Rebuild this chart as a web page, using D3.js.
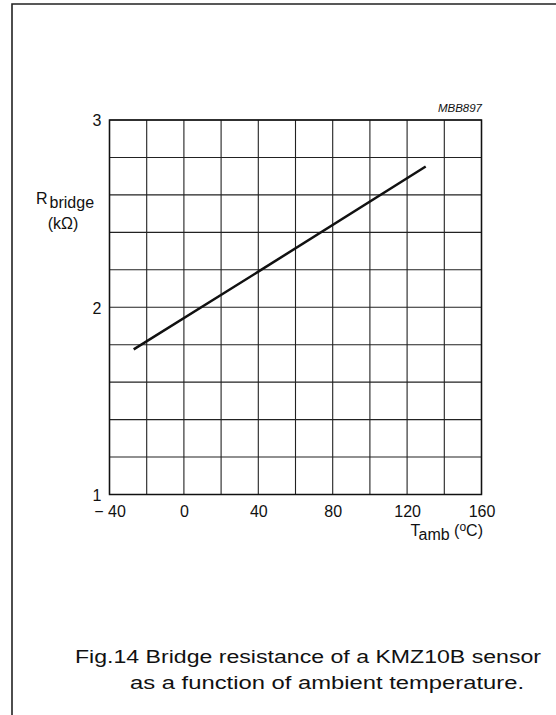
<!DOCTYPE html>
<html>
<head>
<meta charset="utf-8">
<script src="https://cdn.jsdelivr.net/npm/d3@7"></script>
<style>
  html, body { margin: 0; padding: 0; background: #fff; }
  svg { display: block; }
  text { font-family: "Liberation Sans", Arial, Helvetica, sans-serif; fill: #111; }
</style>
</head>
<body>
<script>
// ---- data ----
const temperature = [-27, 40, 130];          // T_amb (°C)
const resistance  = [1.775, 2.19, 2.752];    // R_bridge (kΩ)
const xTickValues = [-40, 0, 40, 80, 120, 160];
const xTickLabels = ["\u2212 40", "0", "40", "80", "120", "160"];
const yTickValues = [1, 2, 3];
const yTickLabels = ["1", "2", "3"];
const xGridValues = d3.range(-40, 161, 20);
const yGridValues = d3.range(1, 3.001, 0.2);

const W = 556, H = 715;
const svg = d3.select("body").append("svg").attr("width", W).attr("height", H);

// page frame (top and left edges visible)
svg.append("path")
  .attr("d", "M12,715 L12,4 L556,4")
  .attr("fill", "none").attr("stroke", "#222").attr("stroke-width", 1.6);

const plot = { left: 109.5, right: 481.5, top: 120, bottom: 494.5 };
const x = d3.scaleLinear().domain([-40, 160]).range([plot.left, plot.right]);
const y = d3.scaleLinear().domain([1, 3]).range([plot.bottom, plot.top]);

// grid
const g = svg.append("g");
g.selectAll("line.vx").data(xGridValues).join("line")
  .attr("x1", d => x(d)).attr("x2", d => x(d))
  .attr("y1", plot.top).attr("y2", plot.bottom)
  .attr("stroke", "#222").attr("stroke-width", 1.1);
g.selectAll("line.hy").data(yGridValues).join("line")
  .attr("y1", d => y(d)).attr("y2", d => y(d))
  .attr("x1", plot.left).attr("x2", plot.right)
  .attr("stroke", "#222").attr("stroke-width", 1.1);
g.append("rect")
  .attr("x", plot.left).attr("y", plot.top)
  .attr("width", plot.right - plot.left).attr("height", plot.bottom - plot.top)
  .attr("fill", "none").attr("stroke", "#111").attr("stroke-width", 1.5);

// axes via d3 (labels only)
const xAxis = d3.axisBottom(x).tickValues(xTickValues)
  .tickFormat((d, i) => xTickLabels[i]).tickSize(0).tickPadding(0);
const xa = svg.append("g").attr("transform", `translate(0,${plot.bottom})`).call(xAxis);
xa.select(".domain").remove();
xa.selectAll("text").attr("dy", null).attr("y", 22)
  .style("font-size", "16px").style("font-family", '"Liberation Sans", Arial, sans-serif').attr("fill", "#111");

const yAxis = d3.axisLeft(y).tickValues(yTickValues)
  .tickFormat((d, i) => yTickLabels[i]).tickSize(0).tickPadding(0);
const ya = svg.append("g").attr("transform", `translate(${plot.left},0)`).call(yAxis);
ya.select(".domain").remove();
ya.selectAll("text").attr("x", -8).attr("dy", "0.36em")
  .style("font-size", "16px").style("font-family", '"Liberation Sans", Arial, sans-serif').attr("fill", "#111");

// data line
const line = d3.line().x(d => x(d[0])).y(d => y(d[1]));
svg.append("path")
  .datum(temperature.map((t, i) => [t, resistance[i]]))
  .attr("d", line)
  .attr("fill", "none").attr("stroke", "#111").attr("stroke-width", 2.5);

// y label
const yl = svg.append("text").attr("x", 36).attr("y", 204).style("font-size", "16px");
yl.append("tspan").text("R");
yl.append("tspan").attr("dx", 2).attr("dy", 4).text("bridge");
svg.append("text").attr("x", 63).attr("y", 229).attr("text-anchor", "middle")
  .style("font-size", "16px").text("(k\u03A9)");

// x label
const xl = svg.append("text").attr("x", 483).attr("y", 536).attr("text-anchor", "end").style("font-size", "16px");
xl.append("tspan").text("T");
xl.append("tspan").attr("dy", 4).text("amb");
xl.append("tspan").attr("dy", -4).text(" (");
xl.append("tspan").attr("dy", -5).style("font-size", "12px").text("o");
xl.append("tspan").attr("dy", 5).text("C)");

// figure code
svg.append("text").attr("x", 482).attr("y", 112).attr("text-anchor", "end")
  .style("font-size", "11.5px").style("font-style", "italic").text("MBB897");

// caption
svg.append("text").attr("x", 75).attr("y", 663).style("font-size", "17.5px")
  .attr("textLength", 466).attr("lengthAdjust", "spacingAndGlyphs")
  .text("Fig.14  Bridge resistance of a KMZ10B sensor");
svg.append("text").attr("x", 130).attr("y", 689).style("font-size", "17.5px")
  .attr("textLength", 394).attr("lengthAdjust", "spacingAndGlyphs")
  .text("as a function of ambient temperature.");
</script>
</body>
</html>
